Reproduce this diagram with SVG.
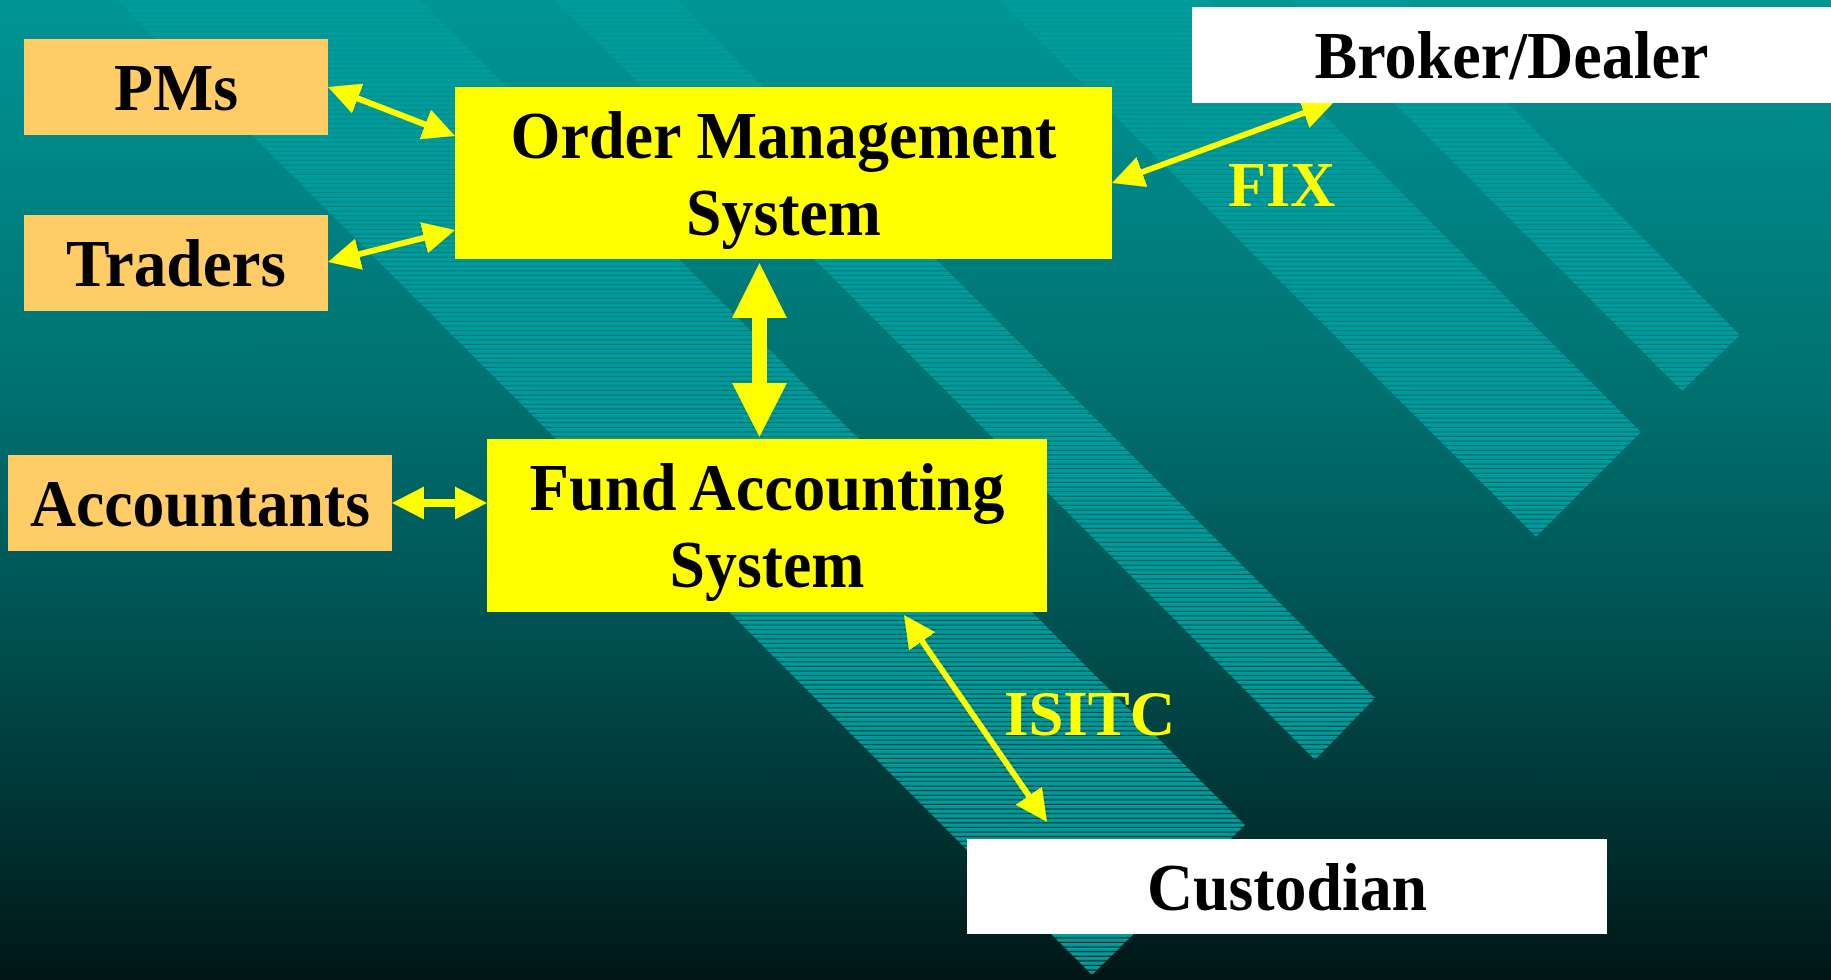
<svg xmlns="http://www.w3.org/2000/svg" width="1831" height="980" viewBox="0 0 1831 980">
  <style>
    .nodetext { font-family: "Liberation Serif", "Times New Roman", serif; font-weight: bold; font-size: 67px; fill: #000000; text-anchor: middle; }
    .label { font-family: "Liberation Serif", "Times New Roman", serif; font-weight: bold; font-size: 64px; fill: #ffff00; text-anchor: middle; }
    .people { fill: #ffcc66; }
    .system { fill: #ffff00; }
    .external { fill: #ffffff; }
    .band { fill: url(#hatch); }
    .thin { stroke: #ffff00; stroke-width: 6; fill: none; marker-start: url(#head); marker-end: url(#head); }
    .solid { fill: #ffff00; }
  </style>
  <defs>
    <linearGradient id="bg" x1="0" y1="0" x2="0" y2="1">
      <stop offset="0" stop-color="#009595"/>
      <stop offset="0.4" stop-color="#007070"/>
      <stop offset="0.65" stop-color="#005050"/>
      <stop offset="0.85" stop-color="#003030"/>
      <stop offset="1" stop-color="#001616"/>
    </linearGradient>
    <pattern id="hatch" patternUnits="userSpaceOnUse" width="10" height="4.6">
      <rect x="0" y="0" width="10" height="3.5" fill="#009c9c"/>
    </pattern>
    <marker id="head" markerUnits="userSpaceOnUse" viewBox="0 0 32 32" refX="10" refY="16" markerWidth="32" markerHeight="32" orient="auto-start-reverse">
      <path d="M0,0 L32,16 L0,32 Z" fill="#ffff00"/>
    </marker>
  </defs>

  <g id="background">
    <rect x="0" y="0" width="1831" height="980" fill="url(#bg)"/>
    <polygon class="band" points="107,-10 410,-10 1245,825 1092,975"/>
    <polygon class="band" points="545,-10 667,-10 1375,698 1315,760"/>
    <polygon class="band" points="989,-10 1199,-10 1641,432 1536,537"/>
    <polygon class="band" points="1281,-10 1395,-10 1740,335 1682,391"/>
  </g>

  <g id="connectors">
    <line class="thin" x1="348.5" y1="94.9" x2="434.5" y2="128.1"/>
    <line class="thin" x1="349.3" y1="256.6" x2="433.7" y2="235.4"/>
    <line class="thin" x1="1132.7" y1="175.5" x2="1313.3" y2="109.5"/>
    <line class="thin" x1="916.5" y1="633.1" x2="1034.5" y2="803.9"/>
    <path class="solid" d="M759.5,263 L787,318 L767,318 L767,383 L787,383 L759.5,437 L732,383 L752,383 L752,318 L732,318 Z"/>
    <path class="solid" d="M392,503 L424,486.5 L424,499 L455,499 L455,486.5 L487,503 L455,519.5 L455,507 L424,507 L424,519.5 Z"/>
    <text class="label" x="1281.5" y="206" textLength="107" lengthAdjust="spacingAndGlyphs">FIX</text>
    <text class="label" x="1089.5" y="735" textLength="171" lengthAdjust="spacingAndGlyphs">ISITC</text>
  </g>

  <g id="pms">
    <rect class="people" x="24" y="39" width="304" height="96"/>
    <text class="nodetext" x="176" y="110" textLength="124" lengthAdjust="spacingAndGlyphs">PMs</text>
  </g>
  <g id="traders">
    <rect class="people" x="24" y="215" width="304" height="96"/>
    <text class="nodetext" x="176" y="286" textLength="220" lengthAdjust="spacingAndGlyphs">Traders</text>
  </g>
  <g id="accountants">
    <rect class="people" x="8" y="455" width="384" height="96"/>
    <text class="nodetext" x="200" y="526" textLength="340" lengthAdjust="spacingAndGlyphs">Accountants</text>
  </g>
  <g id="oms">
    <rect class="system" x="455" y="87" width="657" height="172"/>
    <text class="nodetext" x="783.5" y="158" textLength="546" lengthAdjust="spacingAndGlyphs">Order Management</text>
    <text class="nodetext" x="783.5" y="235" textLength="195" lengthAdjust="spacingAndGlyphs">System</text>
  </g>
  <g id="fas">
    <rect class="system" x="487" y="439" width="560" height="173"/>
    <text class="nodetext" x="767" y="510" textLength="475" lengthAdjust="spacingAndGlyphs">Fund Accounting</text>
    <text class="nodetext" x="767" y="587" textLength="195" lengthAdjust="spacingAndGlyphs">System</text>
  </g>
  <g id="broker">
    <rect class="external" x="1192" y="7" width="639" height="96"/>
    <text class="nodetext" x="1511.5" y="78" textLength="394" lengthAdjust="spacingAndGlyphs">Broker/Dealer</text>
  </g>
  <g id="custodian">
    <rect class="external" x="967" y="839" width="640" height="95"/>
    <text class="nodetext" x="1287" y="910" textLength="280" lengthAdjust="spacingAndGlyphs">Custodian</text>
  </g>
</svg>
